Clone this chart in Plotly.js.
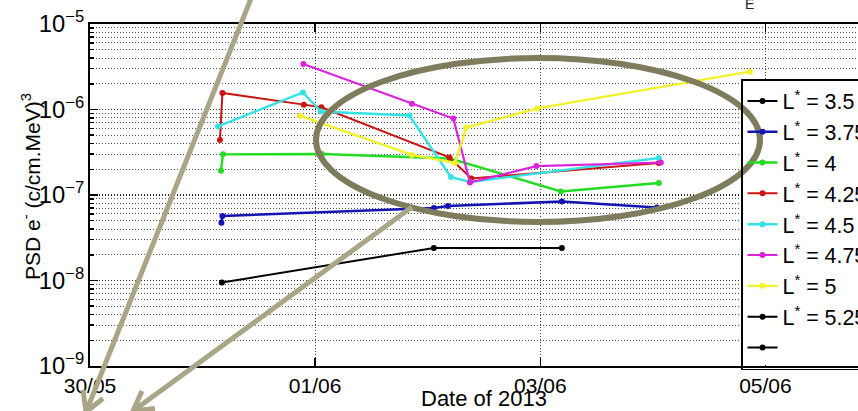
<!DOCTYPE html>
<html>
<head>
<meta charset="utf-8">
<script src="https://cdn.plot.ly/plotly-3.0.1.min.js"></script>
<style>
html, body { margin: 0; padding: 0; overflow: hidden; background: #fff; }
#chart { width: 958px; height: 411px; }
</style>
</head>
<body>
<div id="chart"></div>
<script>
// ---- Data ----
const seriesNames = ['L<sup>*</sup> = 3.5', 'L<sup>*</sup> = 3.75', 'L<sup>*</sup> = 4', 'L<sup>*</sup> = 4.25',
                     'L<sup>*</sup> = 4.5', 'L<sup>*</sup> = 4.75', 'L<sup>*</sup> = 5', 'L<sup>*</sup> = 5.25', ' '];
const seriesColors = ['#000000', '#1414b4', '#22dd22', '#cc1414', '#33e3e6', '#dd22dd', '#f2f22a', '#000000', '#000000'];

const dates_L350 = ['2013-05-31 04:08', '2013-06-02 01:19', '2013-06-03 04:36'];
const psd_L350   = [9.48e-9, 2.40e-8, 2.40e-8];

const dates_L375 = ['2013-05-31 04:01', '2013-05-31 04:14', '2013-06-02 01:19', '2013-06-02 04:18', '2013-06-03 04:36', '2013-06-04 00:51'];
const psd_L375   = [4.74e-8, 5.68e-8, 7.05e-8, 7.44e-8, 8.40e-8, 7.14e-8];

const dates_L400 = ['2013-05-31 03:55', '2013-05-31 04:21', '2013-06-01 01:26', '2013-06-02 04:44', '2013-06-03 04:24', '2013-06-04 01:16'];
const psd_L400   = [1.92e-7, 2.99e-7, 3.02e-7, 2.67e-7, 1.10e-7, 1.38e-7];

const dates_L425 = ['2013-05-31 03:42', '2013-05-31 04:14', '2013-05-31 21:36', '2013-06-01 01:20', '2013-06-02 04:37', '2013-06-02 09:19', '2013-06-04 01:16'];
const psd_L425   = [4.40e-7, 1.56e-6, 1.14e-6, 1.06e-6, 2.75e-7, 1.56e-7, 2.37e-7];

const dates_L450 = ['2013-05-31 03:17', '2013-05-31 21:24', '2013-06-01 01:14', '2013-06-01 20:06', '2013-06-02 04:57', '2013-06-02 09:00', '2013-06-04 01:16'];
const psd_L450   = [6.33e-7, 1.58e-6, 9.48e-7, 8.51e-7, 1.62e-7, 1.42e-7, 2.71e-7];

const dates_L475 = ['2013-05-31 21:30', '2013-06-01 20:38', '2013-06-02 05:28', '2013-06-02 09:00', '2013-06-02 23:10', '2013-06-04 01:42'];
const psd_L475   = [3.40e-6, 1.17e-6, 7.85e-7, 1.40e-7, 2.18e-7, 2.40e-7];

const dates_L500 = ['2013-05-31 20:45', '2013-06-01 20:38', '2013-06-02 05:48', '2013-06-02 08:15', '2013-06-02 23:23', '2013-06-04 20:40'];
const psd_L500   = [8.46e-7, 2.94e-7, 2.37e-7, 6.16e-7, 1.03e-6, 2.77e-6];

// legend-only entries (no data drawn in the picture)
const dates_L525 = [null];
const psd_L525   = [null];
const dates_L550 = [null];
const psd_L550   = [null];

const xRange = ['2013-05-30 00:00', '2013-06-06 00:00'];
const yRangeLog = [-9, -5];
const xTitle = 'Date of 2013';
const yTitle = 'PSD e<sup>-</sup> (c/cm.MeV)<sup>3</sup>';

// ---- Build traces ----
const allDates = [dates_L350, dates_L375, dates_L400, dates_L425, dates_L450, dates_L475, dates_L500, dates_L525, dates_L550];
const allPsd = [psd_L350, psd_L375, psd_L400, psd_L425, psd_L450, psd_L475, psd_L500, psd_L525, psd_L550];
const lineWidths = [2, 2.6, 2.4, 2, 2.4, 2.2, 2.4, 2, 2];

const traces = allDates.map((d, i) => ({
  type: 'scatter',
  mode: 'lines+markers',
  x: d,
  y: allPsd[i],
  name: seriesNames[i],
  line: { color: seriesColors[i], width: lineWidths[i] },
  marker: { color: seriesColors[i], size: 6 },
  hoverinfo: 'skip'
}));

// ---- Overlay geometry helpers (pixel -> paper) ----
const L = 90, T = 24, PW = 788, PH = 342;
const px = v => (v - L) / PW;
const py = v => (T + PH - v) / PH;
function pathOf(pts) {
  return pts.map((p, i) => (i === 0 ? 'M' : (p.m ? 'M' : 'L')) + px(p.x).toFixed(5) + ',' + py(p.y).toFixed(5)).join(' ');
}
const arrowColor = '#a9a586';
const ellipseColor = '#7f7c5e';

const shapes = [
  // white legend background
  { type: 'rect', xref: 'paper', yref: 'paper', x0: px(741), x1: px(950), y0: py(365), y1: py(80),
    fillcolor: '#ffffff', line: { width: 0 }, layer: 'above' },
  // ellipse
  { type: 'circle', xref: 'paper', yref: 'paper', x0: px(316), x1: px(760), y0: py(222), y1: py(58),
    line: { color: ellipseColor, width: 6 }, layer: 'above' },
  // arrow 1
  { type: 'path', xref: 'paper', yref: 'paper', layer: 'above',
    path: pathOf([{x: 252, y: -4}, {x: 86, y: 412}, {x: 83, y: 390, m: true}, {x: 86, y: 412}, {x: 103, y: 398.5}]),
    line: { color: arrowColor, width: 5 } },
  // arrow 2
  { type: 'path', xref: 'paper', yref: 'paper', layer: 'above',
    path: pathOf([{x: 412, y: 207}, {x: 133, y: 411}, {x: 142, y: 391, m: true}, {x: 133, y: 411}, {x: 155, y: 408.6}]),
    line: { color: arrowColor, width: 5 } }
];

const font = 'Liberation Sans, Arial, Helvetica, sans-serif';

const layout = {
  width: 958, height: 411,
  margin: { l: L, r: 958 - L - PW, t: T, b: 411 - T - PH, pad: 0 },
  paper_bgcolor: '#ffffff', plot_bgcolor: '#ffffff',
  font: { family: font, color: '#000', size: 21 },
  showlegend: true,
  legend: {
    x: px(741), y: py(79), xanchor: 'left', yanchor: 'top',
    bgcolor: 'rgba(0,0,0,0)', bordercolor: '#000', borderwidth: 1.5,
    font: { family: font, size: 21.4, color: '#000' },
    itemwidth: 30, tracegroupgap: 0
  },
  xaxis: {
    type: 'date', range: xRange, tickmode: 'linear', tick0: '2013-05-30', dtick: 172800000,
    tickformat: '%d/%m', ticks: 'inside', ticklen: 8, tickwidth: 1.5, tickcolor: '#000',
    showgrid: true, gridcolor: '#444', griddash: '1px,2px', gridwidth: 1,
    showline: true, linecolor: '#000', linewidth: 2, mirror: 'ticks', zeroline: false,
    tickfont: { size: 21 },
    title: { text: xTitle, font: { size: 22 }, standoff: 10 }
  },
  yaxis: {
    type: 'log', range: yRangeLog, dtick: 1, exponentformat: 'power',
    ticks: 'inside', ticklen: 8, tickwidth: 1.5, tickcolor: '#000',
    showgrid: true, gridcolor: '#333', griddash: '1px,2px', gridwidth: 1.5,
    minor: { dtick: 'D1', ticks: 'inside', ticklen: 4, tickcolor: '#000', showgrid: true, gridcolor: '#555', griddash: '1px,2px', gridwidth: 1 },
    showline: true, linecolor: '#000', linewidth: 2, mirror: 'ticks', zeroline: false,
    tickfont: { size: 19 }
  },
  shapes: shapes,
  annotations: [
    { text: yTitle, xref: 'paper', yref: 'paper', x: px(31), y: py(187), showarrow: false, textangle: -90,
      font: { size: 21, color: '#000' }, xanchor: 'center', yanchor: 'middle' },
    { text: 'E', xref: 'paper', yref: 'paper', x: px(749), y: py(4), showarrow: false,
      font: { size: 14, color: '#222' }, xanchor: 'center', yanchor: 'middle' }
  ]
};

Plotly.newPlot('chart', traces, layout, { staticPlot: true, displayModeBar: false });
</script>
</body>
</html>
